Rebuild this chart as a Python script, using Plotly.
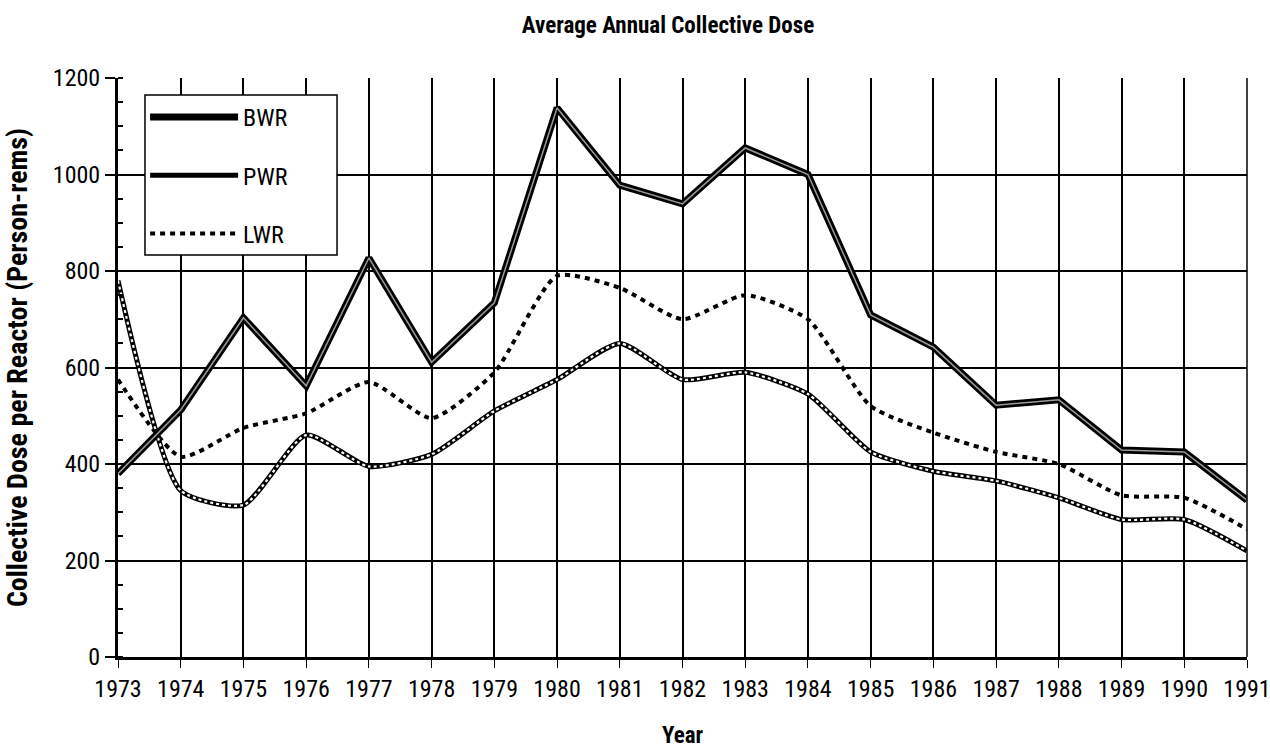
import plotly.graph_objects as go

years = list(range(1973, 1992))
bwr = [380, 512, 703, 562, 827, 611, 734, 1138, 978, 939, 1055, 1000, 709, 642, 522, 533, 429, 425, 325]
pwr = [780, 345, 315, 460, 395, 420, 510, 575, 650, 575, 590, 545, 425, 385, 365, 330, 285, 285, 220]
lwr = [575, 415, 475, 505, 570, 495, 590, 790, 765, 700, 750, 700, 520, 465, 425, 400, 335, 330, 265]
y_ticks = [0, 200, 400, 600, 800, 1000, 1200]

FONT = "Liberation Sans Narrow, Arial Narrow, Roboto Condensed, Liberation Sans, sans-serif"

fig = go.Figure()

# LWR
fig.add_trace(go.Scatter(x=years, y=lwr, mode="lines", name="LWR", legendgroup="c", legendrank=3,
                         line=dict(color="black", width=4, dash="5px,5px", shape="spline", smoothing=0.6)))
# PWR (chain look)
fig.add_trace(go.Scatter(x=years, y=pwr, mode="lines", name="PWR", legendgroup="b", legendrank=2,
                         line=dict(color="black", width=5, shape="spline", smoothing=0.6)))
fig.add_trace(go.Scatter(x=years, y=pwr, mode="lines", showlegend=False, hoverinfo="skip",
                         line=dict(color="white", width=2.2, dash="3px,3px", shape="spline", smoothing=0.6)))
# BWR (thick outlined)
fig.add_trace(go.Scatter(x=years, y=bwr, mode="lines", name="BWR", legendgroup="a", legendrank=1,
                         line=dict(color="black", width=7)))
fig.add_trace(go.Scatter(x=years, y=bwr, mode="lines", showlegend=False, hoverinfo="skip",
                         line=dict(color="#9a9a9a", width=1.5)))

fig.update_layout(
    width=1270, height=749,
    margin=dict(l=118, r=23, t=78, b=92, autoexpand=False),
    paper_bgcolor="white", plot_bgcolor="white",
    font=dict(family=FONT, size=24, color="black"),
    title=dict(text="<b>Average Annual Collective Dose</b>", x=0.526, xanchor="center",
               y=0.967, yanchor="middle", font=dict(family=FONT, size=23)),
    showlegend=True,
    legend=dict(x=0.024, y=0.9706, xanchor="left", yanchor="top",
                borderwidth=0, bgcolor="rgba(0,0,0,0)",
                traceorder="grouped", tracegroupgap=24, itemwidth=88,
                font=dict(family=FONT, size=24)),
    xaxis=dict(range=[1973, 1991], tickmode="array", tickvals=years,
               ticktext=[str(y) for y in years], automargin=False,
               ticklabeloverflow="allow",
               showgrid=True, gridcolor="black", gridwidth=1.5,
               showline=True, linecolor="black", linewidth=3, mirror=False,
               ticks="outside", ticklen=8, tickwidth=1, tickcolor="black",
               zeroline=False,
               title=dict(text="<b>Year</b>", font=dict(family=FONT, size=23), standoff=30)),
    yaxis=dict(range=[0, 1200], tickmode="array", tickvals=y_ticks, automargin=False,
               showgrid=True, gridcolor="black", gridwidth=1.5,
               showline=True, linecolor="black", linewidth=3,
               ticks="outside", ticklen=10, tickwidth=1.5, tickcolor="black",
               zeroline=False,
               minor=dict(dtick=50, ticks="inside", ticklen=5, tickcolor="black", showgrid=False),
               title=dict(text="<b>Collective Dose per Reactor (Person-rems)</b>",
                          font=dict(family=FONT, size=28), standoff=18)),
)

# right border line
fig.add_shape(type="line", xref="paper", yref="paper", x0=1, x1=1, y0=0, y1=1,
              line=dict(color="black", width=1.5))
# legend frame (white box above the data, legend text drawn on top)
fig.add_shape(type="rect", xref="paper", yref="paper", x0=0.0239, x1=0.194, y0=0.6943, y1=0.9706,
              line=dict(color="black", width=1.5), fillcolor="white", layer="above")

fig.write_html("out.html", post_script="document.body.style.margin='0px';",
               config={"displayModeBar": False})
